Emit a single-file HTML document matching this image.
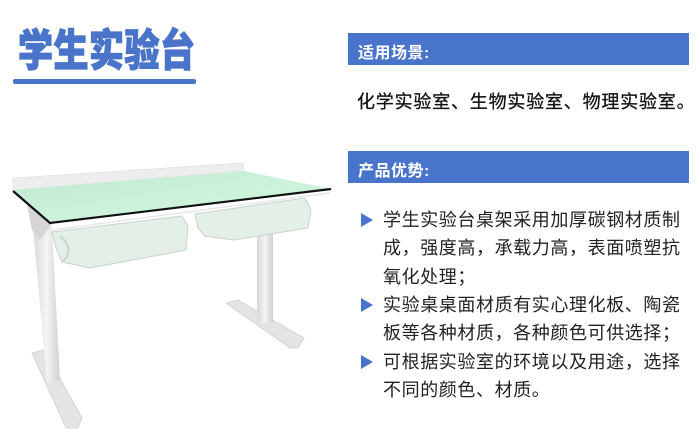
<!DOCTYPE html>
<html><head><meta charset="utf-8"><style>
html,body{margin:0;padding:0;background:#fff;}
body{width:700px;height:444px;position:relative;overflow:hidden;font-family:"Liberation Sans","Noto Sans CJK SC",sans-serif;}
.t{position:absolute;white-space:nowrap;}
.bar{position:absolute;left:348px;width:341px;height:32px;background:#4874cb;}
.bar span{position:absolute;left:10px;top:6px;color:#fff;font-weight:bold;font-size:16px;letter-spacing:0.5px;}
.li{position:absolute;left:383px;font-size:18px;color:#222;letter-spacing:0.6px;line-height:28.4px;}
.tri{position:absolute;left:361px;width:0;height:0;border-left:12px solid #4874cb;border-top:7px solid transparent;border-bottom:7px solid transparent;}
</style></head><body>
<div class="t" style="left:18px;top:24px;font-size:35px;font-weight:900;color:#4a74c9;letter-spacing:0.5px;line-height:56px;transform:scaleY(1.25);transform-origin:0 50%;-webkit-text-stroke:1px #4a74c9;">学生实验台</div>
<div style="position:absolute;left:13px;top:79px;width:183px;height:5px;background:#4a74c9;border-radius:2px;"></div>
<div class="bar" style="top:33px;"><span>适用场景:</span></div>
<div class="t" style="left:357px;top:88px;font-size:18px;color:#111;letter-spacing:0.8px;-webkit-text-stroke:0.3px #111;">化学实验室、生物实验室、物理实验室。</div>
<div class="bar" style="top:151px;"><span>产品优势:</span></div>
<div class="tri" style="top:213px;"></div>
<div class="tri" style="top:298px;"></div>
<div class="tri" style="top:355px;"></div>
<div class="li" style="top:206px;">学生实验台桌架采用加厚碳钢材质制<br>成，强度高，承载力高，表面喷塑抗<br>氧化处理；</div>
<div class="li" style="top:291px;">实验桌桌面材质有实心理化板、陶瓷<br>板等各种材质，各种颜色可供选择；</div>
<div class="li" style="top:348px;">可根据实验室的环境以及用途，选择<br>不同的颜色、材质。</div>
<svg style="position:absolute;left:0;top:0" width="345" height="444" viewBox="0 0 345 444">
<defs>
<linearGradient id="g" x1="0" y1="0" x2="1" y2="1"><stop offset="0" stop-color="#bfe9d0"/><stop offset="0.6" stop-color="#cdf3dc"/><stop offset="1" stop-color="#b7e6c9"/></linearGradient>
<linearGradient id="lg" x1="0" y1="0" x2="1" y2="0"><stop offset="0" stop-color="#d8d8d8"/><stop offset="0.5" stop-color="#f4f4f4"/><stop offset="1" stop-color="#d0d0d0"/></linearGradient>
</defs>
<polygon points="226,303 238,300 304,338 298,348 290,348" fill="#e4e4e4" stroke="#cfcfcf" stroke-width="0.8"/>
<rect x="257" y="228" width="16" height="95" fill="url(#lg)"/>
<polygon points="32,353 44,350 82,418 78,428 66,428" fill="#e4e4e4" stroke="#cfcfcf" stroke-width="0.8"/>
<polygon points="33,228 52,228 60,380 47,383" fill="url(#lg)"/>
<polygon points="26,200 52,224 40,240 32,230" fill="#d5d5d5"/>
<polygon points="195,214 305,198 311,210 308,228 234,240 205,236 198,228" fill="#e3efe7" stroke="#c5d4ca" stroke-width="1"/>
<polygon points="52,232 182,216 188,226 186,250 90,268 62,262 56,248" fill="#e3efe7" stroke="#c5d4ca" stroke-width="1"/>
<path d="M62,262 Q76,250 60,236" fill="none" stroke="#c8d6cc" stroke-width="2"/>
<polygon points="12,182 13,178 243,163 244,171 14,190" fill="#ededed" stroke="#dcdcdc" stroke-width="0.6"/>
<polygon points="13,190 244,171 331,189 50,222" fill="url(#g)"/>
<polyline points="13,191 50,223 331,189" fill="none" stroke="#111" stroke-width="2.2"/>
<polyline points="50,225 52,230 330,193" fill="none" stroke="#e8e8e8" stroke-width="1.5"/>
</svg>
</body></html>
